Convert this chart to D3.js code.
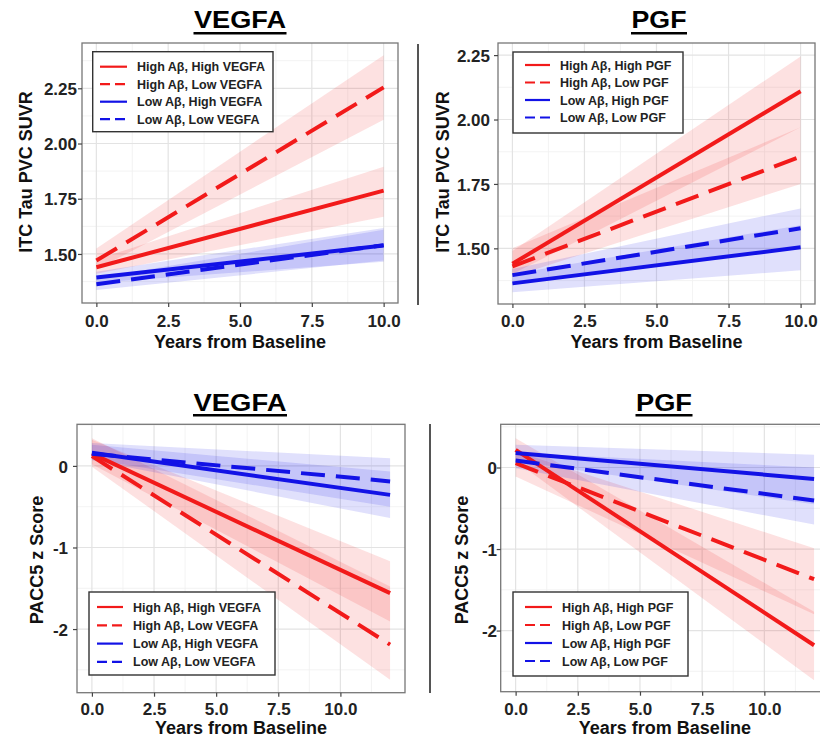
<!DOCTYPE html>
<html><head><meta charset="utf-8">
<script src="https://cdn.jsdelivr.net/npm/d3@7"></script>
<style>
body{margin:0;background:#fff}
svg{display:block}
text{font-family:"Liberation Sans",Arial,Helvetica,sans-serif;font-weight:bold}
</style>
</head><body>
<svg id="c" width="820" height="739"></svg>
<script>
// ---------------- DATA ----------------
const yearsTau = [0, 10];
const yearsPacc = [0, 12];
const seriesGroups = ["High Aβ, High", "High Aβ, Low", "Low Aβ, High", "Low Aβ, Low"];
const markers = ["VEGFA", "PGF"];

const xTicksTau = [0, 2.5, 5, 7.5, 10];
const xTicksPacc = [0, 2.5, 5, 7.5, 10];
const yTicksTau = [1.5, 1.75, 2.0, 2.25];
const yTicksPacc = [0, -1, -2];

// ITC tau, VEGFA  (rows: HH, HL, LH, LL ; values at start / end year)
const tauVEGFA_fit = [[1.44, 1.787], [1.47, 2.254], [1.393, 1.538], [1.363, 1.54]];
const tauVEGFA_lo  = [[1.41, 1.669], [1.43, 2.107], [1.37, 1.465], [1.337, 1.47]];
const tauVEGFA_hi  = [[1.475, 1.895], [1.525, 2.40], [1.42, 1.618], [1.39, 1.61]];

// ITC tau, PGF
const tauPGF_fit = [[1.44, 2.11], [1.43, 1.856], [1.364, 1.504], [1.396, 1.578]];
const tauPGF_lo  = [[1.40, 1.97], [1.39, 1.75], [1.33, 1.415], [1.36, 1.50]];
const tauPGF_hi  = [[1.49, 2.245], [1.50, 1.97], [1.40, 1.59], [1.42, 1.655]];

// PACC5, VEGFA
const paccVEGFA_fit = [[0.15, -1.56], [0.12, -2.19], [0.16, -0.355], [0.15, -0.19]];
const paccVEGFA_lo  = [[0.02, -1.906], [-0.01, -2.62], [0.07, -0.64], [0.08, -0.5]];
const paccVEGFA_hi  = [[0.32, -1.17], [0.34, -1.477], [0.26, -0.07], [0.28, 0.094]];

// PACC5, PGF
const paccPGF_fit = [[0.217, -2.18], [0.054, -1.37], [0.177, -0.14], [0.086, -0.405]];
const paccPGF_lo  = [[0.08, -2.61], [-0.11, -1.80], [0.08, -0.45], [-0.01, -0.70]];
const paccPGF_hi  = [[0.36, -1.77], [0.20, -0.99], [0.28, 0.156], [0.18, 0.0]];

// ---------------- STYLE / LAYOUT ----------------
const RED = "#f21a1a", BLUE = "#1212e6";
const seriesColor = [RED, RED, BLUE, BLUE];
const seriesDash = [null, "24,11", null, "24,11"];
const legendDash = [null, "10,5", null, "10,5"];

const panels = [
  {marker: markers[0], years: yearsTau, fit: tauVEGFA_fit, lo: tauVEGFA_lo, hi: tauVEGFA_hi,
   xr: [82, 398], yr: [303, 43], xdom: [-0.5, 10.5], ydom: [1.278, 2.455],
   xTicks: xTicksTau, yTicks: yTicksTau, yFmt: d3.format(".2f"), yTitle: "ITC Tau PVC SUVR",
   titleX: 240, titleBase: 28.3, titleW: 92, underY: 32, yTitleX: 32, yTitleY: 172,
   yTickRight: 77, xTickBase: 327, xTitleBase: 348,
   leg: {x: 92.7, y: 51.7, w: 180.3, h: 80, rows: [66.7, 84.2, 101.7, 119.2], lx0: 100, lx1: 127, tx: 137}},
  {marker: markers[1], years: yearsTau, fit: tauPGF_fit, lo: tauPGF_lo, hi: tauPGF_hi,
   xr: [498, 815], yr: [304, 43], xdom: [-0.5, 10.5], ydom: [1.284, 2.297],
   xTicks: xTicksTau, yTicks: yTicksTau, yFmt: d3.format(".2f"), yTitle: "ITC Tau PVC SUVR",
   titleX: 659, titleBase: 28.3, titleW: 55, underY: 32, yTitleX: 449, yTitleY: 172,
   yTickRight: 490, xTickBase: 327, xTitleBase: 348,
   leg: {x: 513, y: 52, w: 170, h: 81, rows: [65, 82.5, 100, 117.5], lx0: 525, lx1: 550, tx: 560}},
  {marker: markers[0], years: yearsPacc, fit: paccVEGFA_fit, lo: paccVEGFA_lo, hi: paccVEGFA_hi,
   xr: [77, 405], yr: [692.7, 424.3], xdom: [-0.6, 12.6], ydom: [-2.78, 0.51],
   xTicks: xTicksPacc, yTicks: yTicksPacc, yFmt: d => String(d), yTitle: "PACC5 z Score",
   titleX: 240, titleBase: 410.7, titleW: 93, underY: 414, yTitleX: 43, yTitleY: 560,
   yTickRight: 68, xTickBase: 715, xTitleBase: 734,
   leg: {x: 89, y: 592, w: 186, h: 83, rows: [607, 625.3, 643.6, 661.9], lx0: 97, lx1: 123, tx: 133}},
  {marker: markers[1], years: yearsPacc, fit: paccPGF_fit, lo: paccPGF_lo, hi: paccPGF_hi,
   xr: [500.7, 829], yr: [691.7, 424.3], xdom: [-0.6, 12.6], ydom: [-2.75, 0.53],
   xTicks: xTicksPacc, yTicks: yTicksPacc, yFmt: d => String(d), yTitle: "PACC5 z Score",
   titleX: 664, titleBase: 410.7, titleW: 56, underY: 414, yTitleX: 468, yTitleY: 560,
   yTickRight: 497, xTickBase: 715, xTitleBase: 734,
   leg: {x: 513, y: 592, w: 175, h: 84, rows: [607, 625, 643, 661], lx0: 525, lx1: 552, tx: 562}}
];

const svg = d3.select("#c");
svg.append("rect").attr("width", 820).attr("height", 739).attr("fill", "#fff");

function minorOf(ticks, dom) {
  const step = ticks[1] - ticks[0];
  const out = [];
  const lo = Math.min(...ticks), hi = Math.max(...ticks);
  for (let v = lo - step / 2; v <= hi + step / 2 + 1e-9; v += step) out.push(v);
  return out.filter(v => v > Math.min(...dom) && v < Math.max(...dom));
}

panels.forEach((p, pi) => {
  const x = d3.scaleLinear().domain(p.xdom).range(p.xr);
  const y = d3.scaleLinear().domain(p.ydom).range(p.yr);
  const g = svg.append("g");
  const clipId = "clip" + pi;
  svg.append("clipPath").attr("id", clipId).append("rect")
    .attr("x", p.xr[0]).attr("y", p.yr[1]).attr("width", p.xr[1] - p.xr[0]).attr("height", p.yr[0] - p.yr[1]);

  // panel bg
  g.append("rect").attr("x", p.xr[0]).attr("y", p.yr[1]).attr("width", p.xr[1] - p.xr[0])
    .attr("height", p.yr[0] - p.yr[1]).attr("fill", "#fff");

  // grids
  const grid = g.append("g");
  minorOf(p.xTicks, p.xdom).forEach(v => grid.append("line").attr("x1", x(v)).attr("x2", x(v))
    .attr("y1", p.yr[0]).attr("y2", p.yr[1]).attr("stroke", "#f0f0f0").attr("stroke-width", 0.8));
  minorOf(p.yTicks.slice().sort((a, b) => a - b), p.ydom).forEach(v => grid.append("line").attr("y1", y(v)).attr("y2", y(v))
    .attr("x1", p.xr[0]).attr("x2", p.xr[1]).attr("stroke", "#f0f0f0").attr("stroke-width", 0.8));
  p.xTicks.forEach(v => grid.append("line").attr("x1", x(v)).attr("x2", x(v))
    .attr("y1", p.yr[0]).attr("y2", p.yr[1]).attr("stroke", "#e3e3e3").attr("stroke-width", 1.2));
  p.yTicks.forEach(v => grid.append("line").attr("y1", y(v)).attr("y2", y(v))
    .attr("x1", p.xr[0]).attr("x2", p.xr[1]).attr("stroke", "#e3e3e3").attr("stroke-width", 1.2));

  // ribbons
  const plot = g.append("g").attr("clip-path", `url(#${clipId})`);
  const area = d3.area().x(d => x(d.t)).y0(d => y(d.lo)).y1(d => y(d.hi));
  p.fit.forEach((_, si) => {
    const pts = p.years.map((t, k) => ({t, lo: p.lo[si][k], hi: p.hi[si][k]}));
    plot.append("path").attr("d", area(pts)).attr("fill", seriesColor[si]).attr("fill-opacity", 0.13);
  });
  // lines
  const line = d3.line().x(d => x(d.t)).y(d => y(d.v));
  p.fit.forEach((vals, si) => {
    const pts = p.years.map((t, k) => ({t, v: vals[k]}));
    plot.append("path").attr("d", line(pts)).attr("fill", "none").attr("stroke", seriesColor[si])
      .attr("stroke-width", 4).attr("stroke-dasharray", seriesDash[si]);
  });

  // border
  g.append("rect").attr("x", p.xr[0]).attr("y", p.yr[1]).attr("width", p.xr[1] - p.xr[0])
    .attr("height", p.yr[0] - p.yr[1]).attr("fill", "none").attr("stroke", "#777").attr("stroke-width", 1.3);

  // axes (ticks + labels)
  const xa = g.append("g").attr("transform", `translate(0,${p.yr[0]})`)
    .call(d3.axisBottom(x).tickValues(p.xTicks).tickFormat(d3.format(".1f")).tickSize(4).tickPadding(0));
  xa.select(".domain").remove();
  xa.selectAll(".tick line").attr("stroke", "#444").attr("stroke-width", 1.2);
  xa.selectAll(".tick text").attr("y", p.xTickBase - p.yr[0]).attr("dy", null)
    .attr("font-size", 17).attr("fill", "#222").attr("font-family", null);

  const ya = g.append("g").attr("transform", `translate(${p.xr[0]},0)`)
    .call(d3.axisLeft(y).tickValues(p.yTicks).tickFormat(p.yFmt).tickSize(4));
  ya.select(".domain").remove();
  ya.selectAll(".tick line").attr("stroke", "#444").attr("stroke-width", 1.2);
  ya.selectAll(".tick text").attr("x", p.yTickRight - p.xr[0]).attr("dy", "0.36em")
    .attr("font-size", 17).attr("fill", "#222").attr("font-family", null);

  // axis titles
  g.append("text").attr("x", (p.xr[0] + p.xr[1]) / 2).attr("y", p.xTitleBase).attr("text-anchor", "middle")
    .attr("font-size", 18).attr("fill", "#111").text("Years from Baseline");
  g.append("text").attr("transform", `translate(${p.yTitleX},${p.yTitleY}) rotate(-90)`).attr("text-anchor", "middle")
    .attr("font-size", 18).attr("fill", "#111").text(p.yTitle);

  // panel title (underlined)
  g.append("text").attr("x", p.titleX).attr("y", p.titleBase).attr("text-anchor", "middle")
    .attr("font-size", 23).attr("fill", "#000")
    .attr("textLength", p.titleW).attr("lengthAdjust", "spacingAndGlyphs").text(p.marker);
  g.append("rect").attr("x", p.titleX - p.titleW / 2 - 0.5).attr("y", p.underY).attr("width", p.titleW + 1)
    .attr("height", 2.5).attr("fill", "#000");

  // legend
  const L = p.leg;
  const lg = g.append("g");
  lg.append("rect").attr("x", L.x).attr("y", L.y).attr("width", L.w).attr("height", L.h)
    .attr("fill", "#fff").attr("stroke", "#333").attr("stroke-width", 1.4);
  seriesGroups.forEach((name, si) => {
    lg.append("line").attr("x1", L.lx0).attr("x2", L.lx1).attr("y1", L.rows[si]).attr("y2", L.rows[si])
      .attr("stroke", seriesColor[si]).attr("stroke-width", 2.2).attr("stroke-dasharray", legendDash[si]);
    lg.append("text").attr("x", L.tx).attr("y", L.rows[si]).attr("dy", "0.36em")
      .attr("font-size", 12.5).attr("fill", "#222").text(name + " " + p.marker);
  });
});

// separators
svg.append("line").attr("x1", 418).attr("x2", 418).attr("y1", 44).attr("y2", 305).attr("stroke", "#555").attr("stroke-width", 2);
svg.append("line").attr("x1", 430).attr("x2", 430).attr("y1", 424).attr("y2", 693).attr("stroke", "#555").attr("stroke-width", 2);
</script>
</body></html>
